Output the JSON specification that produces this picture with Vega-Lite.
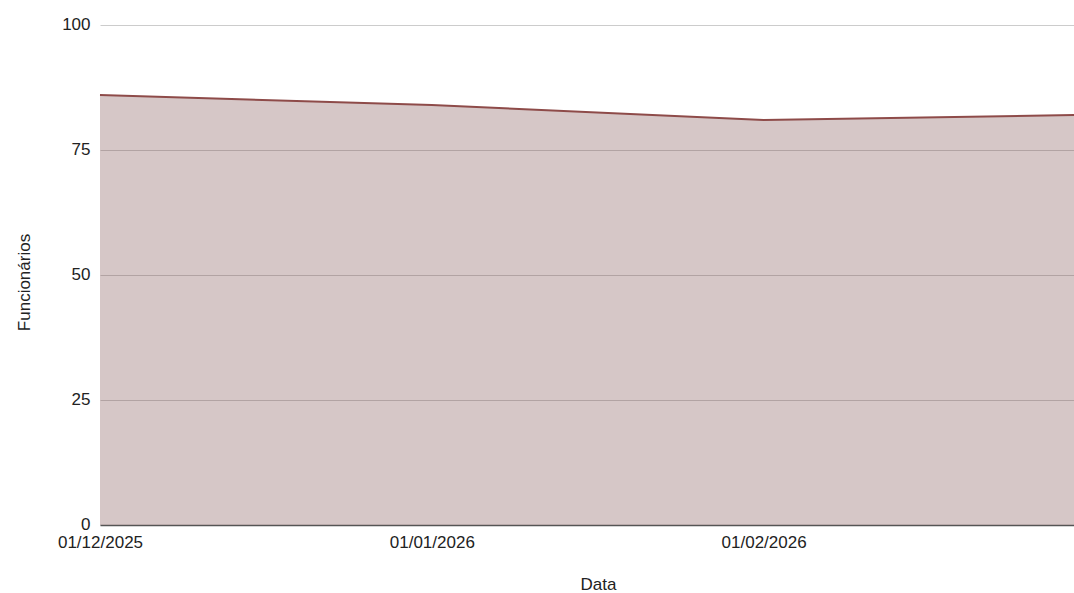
{
  "$schema": "https://vega.github.io/schema/vega-lite/v6.json",
  "width": 974,
  "height": 500,
  "autosize": {"type": "none"},
  "padding": {"left": 100, "top": 25, "right": 0, "bottom": 68},
  "background": "white",
  "config": {
    "view": {"stroke": null},
    "font": "Liberation Sans",
    "axis": {"labelFont": "Liberation Sans", "titleFont": "Liberation Sans", "labelColor": "#222", "titleColor": "#222", "titleFontWeight": "normal"}
  },
  "data": {
    "values": [
      {"Data": "2025-12-01", "Funcionarios": 86},
      {"Data": "2026-01-01", "Funcionarios": 84},
      {"Data": "2026-02-01", "Funcionarios": 81},
      {"Data": "2026-03-02", "Funcionarios": 82}
    ]
  },
  "encoding": {
    "x": {
      "field": "Data", "type": "temporal", "title": "Data",
      "scale": {"domain": ["2025-12-01", "2026-03-02"], "nice": false},
      "axis": {
        "values": ["2025-12-01", "2026-01-01", "2026-02-01"],
        "format": "%d/%m/%Y", "labelFontSize": 17, "titleFontSize": 17,
        "grid": false, "ticks": false, "domainColor": "#555", "domainWidth": 1.5,
        "labelPadding": 9, "titlePadding": 26, "labelFlush": false, "labelOverlap": false,
        "titleX": 498
      }
    },
    "y": {
      "field": "Funcionarios", "type": "quantitative", "title": "Funcionários",
      "scale": {"domain": [0, 100], "nice": false},
      "axis": {
        "values": [0, 25, 50, 75, 100], "labelFontSize": 17, "titleFontSize": 17,
        "ticks": false, "domain": false, "gridColor": "#cccccc", "gridWidth": 1,
        "labelPadding": 10, "titlePadding": 28, "labelBaseline": "alphabetic", "labelOffset": 4,
        "titleY": 257
      }
    }
  },
  "layer": [
    {"mark": {"type": "area", "color": "#764444", "opacity": 0.3}},
    {"mark": {"type": "line", "color": "#8e4b49", "strokeWidth": 2}}
  ]
}
